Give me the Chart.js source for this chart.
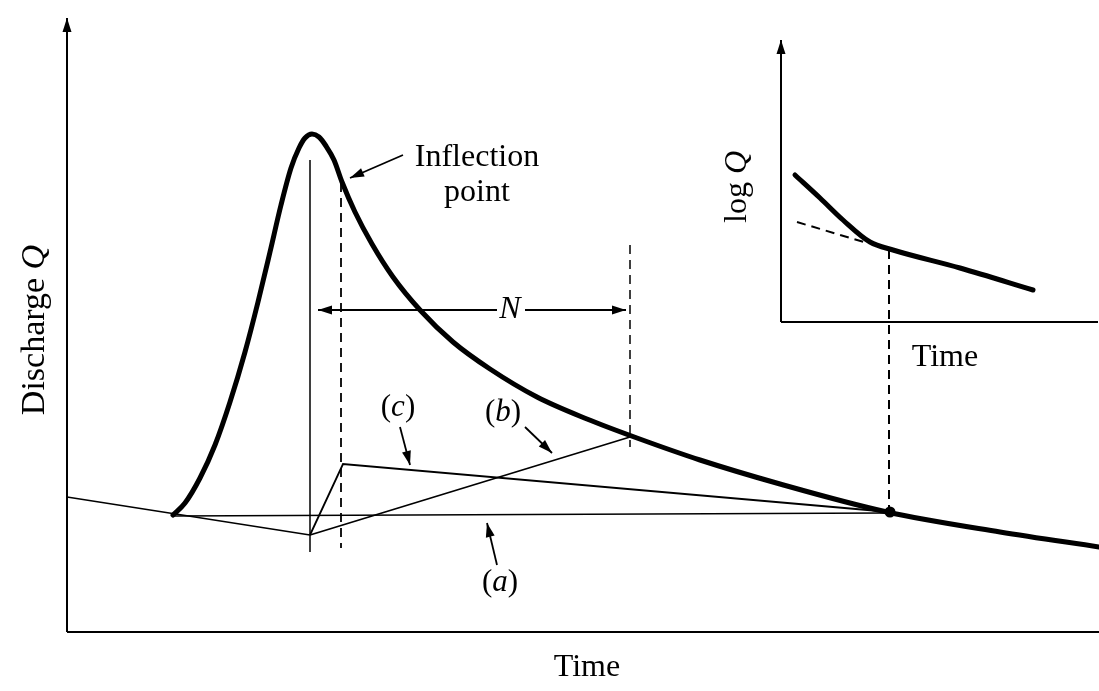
<!DOCTYPE html>
<html>
<head>
<meta charset="utf-8">
<script src="https://cdn.jsdelivr.net/npm/chart.js@4.4.0/dist/chart.umd.min.js"></script>
<style>
html, body { margin: 0; padding: 0; background: #fff; }
canvas { display: block; }
</style>
</head>
<body>
<canvas id="graph" width="1099" height="691"></canvas>
<script>
// storm hydrograph (time, discharge in arbitrary units)
const hydroTime = [106, 118, 133, 148, 163, 178, 191, 203, 214, 224, 232, 238, 245, 252, 259, 267, 275, 288, 305, 326, 353, 386, 423, 470, 520, 570, 633, 713, 820, 933, 1032]
const hydroQ = [117, 129, 154, 187, 230, 280, 330, 380, 427, 464, 484, 494, 498, 495, 486, 472, 450, 420, 388, 355, 322, 290, 263, 235, 213, 194, 172, 148, 120, 100, 85]

// baseflow before the storm, extended under the peak
const preTime = [0, 243]
const preQ = [135, 97]

// separation methods
const aTime = [106, 820]
const aQ = [116, 119]
const bTime = [243, 563]
const bQ = [97, 195]
const cTime = [243, 276, 823]
const cQ = [97, 168, 120]

// end of direct runoff
const endTime = [823]
const endQ = [120]

// verticals: peak (solid), inflection, peak + N, end of runoff (dashed)
const peakTime = [243, 243]
const peakQ = [472, 80]
const inflTime = [274, 274]
const inflQ = [449, 84]
const nEndTime = [563, 563]
const nEndQ = [387, 185]
const runoffEndTime = [822, 822]
const runoffEndQ = [382, 120]

// N arrow
const nLeftTime = [430, 251]
const nRightTime = [458, 559]
const nArrowQ = [322, 322]

// pointer arrows (tail -> tip)
const inflArrowTime = [336, 283]
const inflArrowQ = [477, 454]
const cArrowTime = [333, 343]
const cArrowQ = [205, 167]
const bArrowTime = [458, 485]
const bArrowQ = [205, 179]
const aArrowTime = [430, 420]
const aArrowQ = [67, 109]

// inset: log Q against time
const insetTime = [728, 753, 776, 803, 826, 893, 966]
const insetLogQ = [457, 434, 412, 390, 382, 364, 342]
const insetDashTime = [730, 800]
const insetDashQ = [410, 389]

// axes
const mainYAxisTime = [0, 0]
const mainYAxisQ = [0, 614]
const mainXAxisTime = [0, 1032]
const mainXAxisQ = [0, 0]
const insetYAxisTime = [714, 714]
const insetYAxisQ = [310, 592]
const insetXAxisTime = [714, 1031]
const insetXAxisQ = [310, 310]

// labels: parts are [text, italic]
const labelParts = [
  [['Inflection', 0]],
  [['point', 0]],
  [['N', 1]],
  [['(', 0], ['c', 1], [')', 0]],
  [['(', 0], ['b', 1], [')', 0]],
  [['(', 0], ['a', 1], [')', 0]],
  [['Time', 0]],
  [['Time', 0]],
  [['Discharge ', 0], ['Q', 1]],
  [['log ', 0], ['Q', 1]]
]
const labelTime = [410, 410, 443, 331, 436, 433, 878, 520, -32, 671]
const labelQ = [474, 439, 322, 224, 219, 49, 274, -36, 302, 445]
const labelRot = [0, 0, 0, 0, 0, 0, 0, 0, -90, -90]
const labelSize = [32, 32, 32, 31, 31, 31, 32, 32, 34, 32]

function pts(xs, ys) {
  return xs.map((x, i) => ({ x: x, y: ys[i] }))
}

function line(xs, ys, width, extra) {
  return Object.assign({
    data: pts(xs, ys),
    borderColor: '#000',
    backgroundColor: '#000',
    borderWidth: width,
    pointRadius: 0,
    fill: false,
    tension: 0
  }, extra || {})
}

const dash = [9, 6]

const datasets = [
  line(mainYAxisTime, mainYAxisQ, 2, { arrow: 'end' }),
  line(mainXAxisTime, mainXAxisQ, 2),
  line(insetYAxisTime, insetYAxisQ, 2, { arrow: 'end' }),
  line(insetXAxisTime, insetXAxisQ, 2),
  line(preTime, preQ, 1.5),
  line(aTime, aQ, 1.5),
  line(bTime, bQ, 1.8),
  line(cTime, cQ, 1.8),
  line(peakTime, peakQ, 1.5),
  line(inflTime, inflQ, 1.8, { borderDash: dash }),
  line(nEndTime, nEndQ, 1.5, { borderDash: dash }),
  line(runoffEndTime, runoffEndQ, 2, { borderDash: dash }),
  line(nLeftTime, nArrowQ, 1.8, { arrow: 'end' }),
  line(nRightTime, nArrowQ, 1.8, { arrow: 'end' }),
  line(inflArrowTime, inflArrowQ, 1.8, { arrow: 'end' }),
  line(cArrowTime, cArrowQ, 1.8, { arrow: 'end' }),
  line(bArrowTime, bArrowQ, 1.8, { arrow: 'end' }),
  line(aArrowTime, aArrowQ, 1.8, { arrow: 'end' }),
  line(insetDashTime, insetDashQ, 2, { borderDash: [9, 6] }),
  line(insetTime, insetLogQ, 5, { cubicInterpolationMode: 'monotone', borderCapStyle: 'round' }),
  line(hydroTime, hydroQ, 5, { cubicInterpolationMode: 'monotone', borderCapStyle: 'round' }),
  line(endTime, endQ, 0, { showLine: false, pointRadius: 5.5 })
]

const FONT = '"Liberation Serif", "Times New Roman", serif'

const extras = {
  id: 'extras',
  afterDatasetsDraw(chart) {
    const ctx = chart.ctx
    const xs = chart.scales.x
    const ys = chart.scales.y
    ctx.save()
    ctx.fillStyle = '#000'

    // arrowheads at the last point of flagged datasets
    chart.data.datasets.forEach((ds, i) => {
      if (!ds.arrow) return
      const p = chart.getDatasetMeta(i).data
      const a = p[p.length - 2], b = p[p.length - 1]
      const ang = Math.atan2(b.y - a.y, b.x - a.x)
      const len = 14, half = 4.5
      ctx.beginPath()
      ctx.moveTo(b.x, b.y)
      ctx.lineTo(b.x - len * Math.cos(ang) + half * Math.sin(ang), b.y - len * Math.sin(ang) - half * Math.cos(ang))
      ctx.lineTo(b.x - len * Math.cos(ang) - half * Math.sin(ang), b.y - len * Math.sin(ang) + half * Math.cos(ang))
      ctx.closePath()
      ctx.fill()
    })

    // text labels
    ctx.textBaseline = 'middle'
    ctx.textAlign = 'left'
    labelParts.forEach((parts, i) => {
      const px = xs.getPixelForValue(labelTime[i])
      const py = ys.getPixelForValue(labelQ[i])
      const size = labelSize[i] + 'px '
      let total = 0
      parts.forEach(p => {
        ctx.font = (p[1] ? 'italic ' : '') + size + FONT
        total += ctx.measureText(p[0]).width
      })
      ctx.save()
      ctx.translate(px, py)
      ctx.rotate(labelRot[i] * Math.PI / 180)
      let cx = -total / 2
      parts.forEach(p => {
        ctx.font = (p[1] ? 'italic ' : '') + size + FONT
        ctx.fillText(p[0], cx, 0)
        cx += ctx.measureText(p[0]).width
      })
      ctx.restore()
    })
    ctx.restore()
  }
}

const ctx = document.getElementById('graph').getContext('2d')
const chart = new Chart(ctx, {
  type: 'line',
  data: { datasets: datasets },
  options: {
    responsive: false,
    animation: false,
    devicePixelRatio: 1,
    layout: { padding: 0, autoPadding: false },
    plugins: { legend: { display: false }, tooltip: { enabled: false } },
    scales: {
      x: { type: 'linear', min: -67, max: 1032, display: false },
      y: { type: 'linear', min: -59, max: 632, display: false }
    }
  },
  plugins: [extras]
})
</script>
</body>
</html>
